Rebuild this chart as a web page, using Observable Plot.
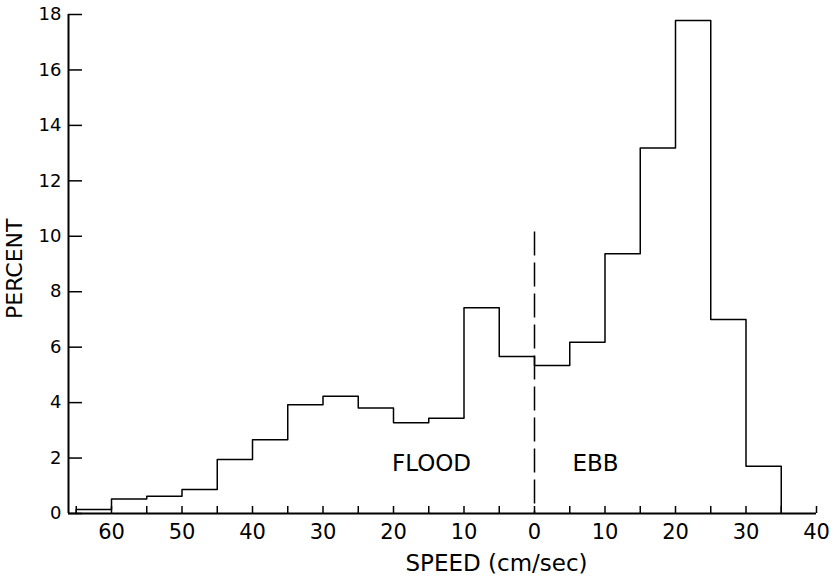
<!DOCTYPE html>
<html><head><meta charset="utf-8">
<script src="https://cdn.jsdelivr.net/npm/d3@7"></script>
<script src="https://cdn.jsdelivr.net/npm/@observablehq/plot@0.6"></script>
<style>body{margin:0;background:#fff}</style>
</head><body><div id="chart"></div>
<script>
// Flood bins (speed, cm/sec), listed by the bin's upper edge going from 65 down to 5
const floodBinUpper = [65, 60, 55, 50, 45, 40, 35, 30, 25, 20, 15, 10, 5];
const floodPercent  = [0.14, 0.52, 0.62, 0.87, 1.95, 2.66, 3.92, 4.23, 3.81, 3.27, 3.44, 7.42, 5.66];
// Ebb bins, listed by the bin's lower edge
const ebbBinLower = [0, 5, 10, 15, 20, 25, 30];
const ebbPercent  = [5.34, 6.18, 9.37, 13.18, 17.78, 7.0, 1.7];
const binWidth = 5;
const xTickLabels = [-60, -50, -40, -30, -20, -10, 0, 10, 20, 30, 40];
const yTickLabels = [0, 2, 4, 6, 8, 10, 12, 14, 16, 18];
const dividerTop = 10.15;

// step outline: flood on the negative side, ebb on the positive side
const pts = [{u: -floodBinUpper[0], v: 0}];
floodBinUpper.forEach((s, i) => pts.push({u: -s, v: floodPercent[i]}));
ebbBinLower.forEach((s, i) => pts.push({u: s, v: ebbPercent[i]}));
const lastEdge = ebbBinLower[ebbBinLower.length - 1] + binWidth;
pts.push({u: lastEdge, v: ebbPercent[ebbPercent.length - 1]});
pts.push({u: lastEdge, v: 0});

const W = 839, H = 578, ml = 68, mr = 23, mt = 14, mb = 65;
const xDomain = [-66.1, 40], yDomain = [0, 18];
const kx = (W - ml - mr) / (xDomain[1] - xDomain[0]);
const ky = (H - mt - mb) / (yDomain[1] - yDomain[0]);
const xMinorTicks = d3.range(-65, 41, 5);
const font = "DejaVu Sans, sans-serif";

const chart = Plot.plot({
  width: W, height: H,
  marginLeft: ml, marginRight: mr, marginTop: mt, marginBottom: mb,
  style: {fontFamily: font, background: "#fff", color: "#000", overflow: "visible"},
  x: {domain: xDomain},
  y: {domain: yDomain},
  marks: [
    Plot.axisX({ticks: xTickLabels, tickFormat: d => Math.abs(d), tickSize: 0, tickPadding: 11, fontSize: 21, label: null}),
    Plot.axisY({ticks: yTickLabels, tickSize: 0, tickPadding: 7, fontSize: 18, label: null}),
    // inward tick marks
    Plot.ruleX(xMinorTicks, {x: d => d, y1: 0, y2: 7 / ky, stroke: "#000", strokeWidth: 1.5}),
    Plot.ruleY(yTickLabels, {y: d => d, x1: xDomain[0], x2: xDomain[0] + 14 / kx, stroke: "#000", strokeWidth: 1.5}),
    // axis lines
    Plot.ruleY([0], {x1: xDomain[0], x2: xDomain[1], stroke: "#000", strokeWidth: 2}),
    Plot.ruleX([xDomain[0]], {y1: 0, y2: 18, stroke: "#000", strokeWidth: 2}),
    // divider between flood and ebb
    Plot.ruleX([0], {y1: dividerTop, y2: 0, stroke: "#000", strokeWidth: 1.5, strokeDasharray: "24,7"}),
    // histogram outline
    Plot.line(pts, {x: "u", y: "v", curve: "step-after", stroke: "#000", strokeWidth: 1.5}),
    // annotations
    Plot.text(["FLOOD"], {frameAnchor: "bottom", dx: -11, dy: -50, fontSize: 23, fill: "#000", lineAnchor: "middle"}),
    Plot.text(["EBB"], {frameAnchor: "bottom", dx: 153, dy: -50, fontSize: 23, fill: "#000", lineAnchor: "middle"}),
    Plot.text(["SPEED (cm/sec)"], {frameAnchor: "bottom", dx: 54, dy: 50, fontSize: 23, fill: "#000", lineAnchor: "middle"}),
    Plot.text(["PERCENT"], {frameAnchor: "left", dx: -54, dy: 55, rotate: -90, fontSize: 22, fill: "#000", lineAnchor: "middle"})
  ]
});
document.getElementById("chart").appendChild(chart);
</script>
</body></html>
